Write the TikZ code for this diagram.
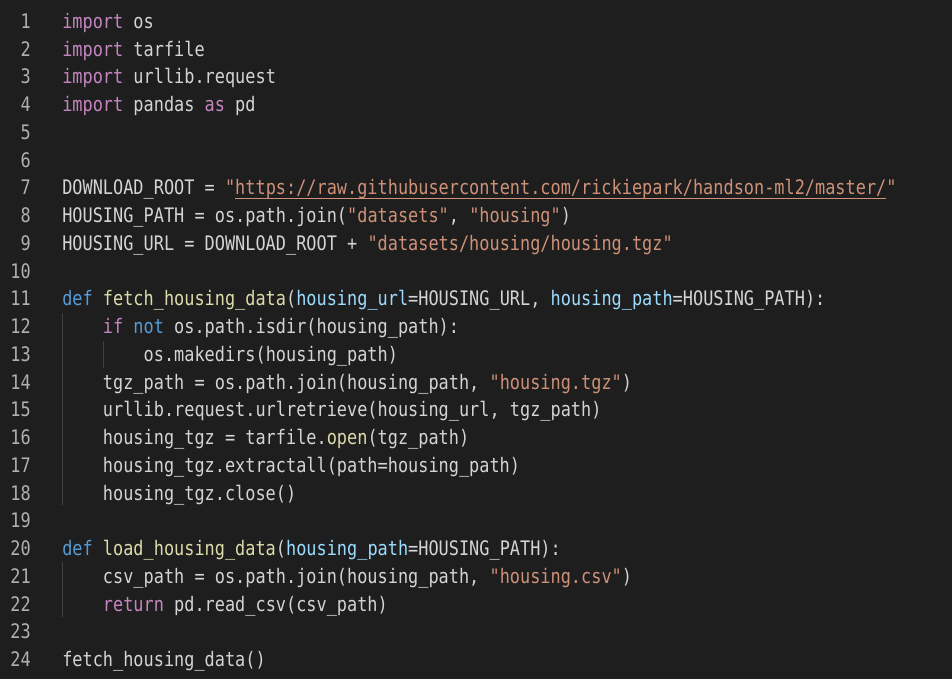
\documentclass[tikz,border=0pt]{standalone}
\usepackage{fontspec}
\newfontfamily\codefont[FakeStretch=0.845]{DejaVu Sans Mono}
\frenchspacing

\definecolor{bgdark}{HTML}{1E1E1E}
\definecolor{kwpurple}{HTML}{C586C0}
\definecolor{kwblue}{HTML}{569CD6}
\definecolor{fnyellow}{HTML}{DCDCAA}
\definecolor{prmblue}{HTML}{9CDCFE}
\definecolor{strorange}{HTML}{CE9178}
\definecolor{plaintext}{HTML}{D4D4D4}
\definecolor{linenum}{HTML}{B0B0B0}
\definecolor{guide}{HTML}{404040}

\newcommand{\kw}[1]{\textcolor{kwpurple}{#1}}
\newcommand{\kwb}[1]{\textcolor{kwblue}{#1}}
\newcommand{\fn}[1]{\textcolor{fnyellow}{#1}}
\newcommand{\prm}[1]{\textcolor{prmblue}{#1}}
\newcommand{\str}[1]{\textcolor{strorange}{#1}}

\tikzset{
  code/.style={anchor=base west, inner sep=0pt, text=plaintext, font=\codefont\fontsize{15}{18}\selectfont},
  numtext/.style={anchor=base east, inner sep=0pt, text=linenum, font=\codefont\fontsize{15}{18}\selectfont},
  indentguide/.style={guide, line width=0.75pt}
}

\begin{document}
\begin{tikzpicture}[x=0.75pt,y=-0.75pt]
\fill[bgdark] (0,0) rectangle (952,679);
\useasboundingbox (0,0) rectangle (952,679);

% line numbers
\foreach \n in {1,...,24} {
  \node[numtext] (num\n) at (31,{28.5+(\n-1)*27.74}) {\n};
}

% indent guides
\draw[indentguide] (62.5,313) -- (62.5,505);
\draw[indentguide] (103.5,341) -- (103.5,368);
\draw[indentguide] (62.5,562) -- (62.5,617);

\node[code] (line1) at (62,28.5) {\kw{import} os};
\node[code] (line2) at (62,56.24) {\kw{import} tarfile};
\node[code] (line3) at (62,83.98) {\kw{import} urllib.request};
\node[code] (line4) at (62,111.72) {\kw{import} pandas \kw{as} pd};

\node[code] (line7) at (62,194.94) {DOWNLOAD\_ROOT = \str{"https://raw.githubusercontent.com/rickiepark/handson-ml2/master/"}};
\draw[strorange, line width=0.75pt] (235,198.5) -- (886,198.5);
\node[code] (line8) at (62,222.68) {HOUSING\_PATH = os.path.join(\str{"datasets"}, \str{"housing"})};
\node[code] (line9) at (62,250.42) {HOUSING\_URL = DOWNLOAD\_ROOT + \str{"datasets/housing/housing.tgz"}};

\node[code] (line11) at (62,305.9) {\kwb{def} \fn{fetch\_housing\_data}(\prm{housing\_url}=HOUSING\_URL, \prm{housing\_path}=HOUSING\_PATH):};
\node[code] (line12) at (102.7,333.64) {\kw{if} \kwb{not} os.path.isdir(housing\_path):};
\node[code] (line13) at (143.4,361.38) {os.makedirs(housing\_path)};
\node[code] (line14) at (102.7,389.12) {tgz\_path = os.path.join(housing\_path, \str{"housing.tgz"})};
\node[code] (line15) at (102.7,416.86) {urllib.request.urlretrieve(housing\_url, tgz\_path)};
\node[code] (line16) at (102.7,444.6) {housing\_tgz = tarfile.\fn{open}(tgz\_path)};
\node[code] (line17) at (102.7,472.34) {housing\_tgz.extractall(path=housing\_path)};
\node[code] (line18) at (102.7,500.08) {housing\_tgz.close()};

\node[code] (line20) at (62,555.56) {\kwb{def} \fn{load\_housing\_data}(\prm{housing\_path}=HOUSING\_PATH):};
\node[code] (line21) at (102.7,583.3) {csv\_path = os.path.join(housing\_path, \str{"housing.csv"})};
\node[code] (line22) at (102.7,611.04) {\kw{return} pd.read\_csv(csv\_path)};

\node[code] (line24) at (62,666.52) {fetch\_housing\_data()};
\end{tikzpicture}
\end{document}
